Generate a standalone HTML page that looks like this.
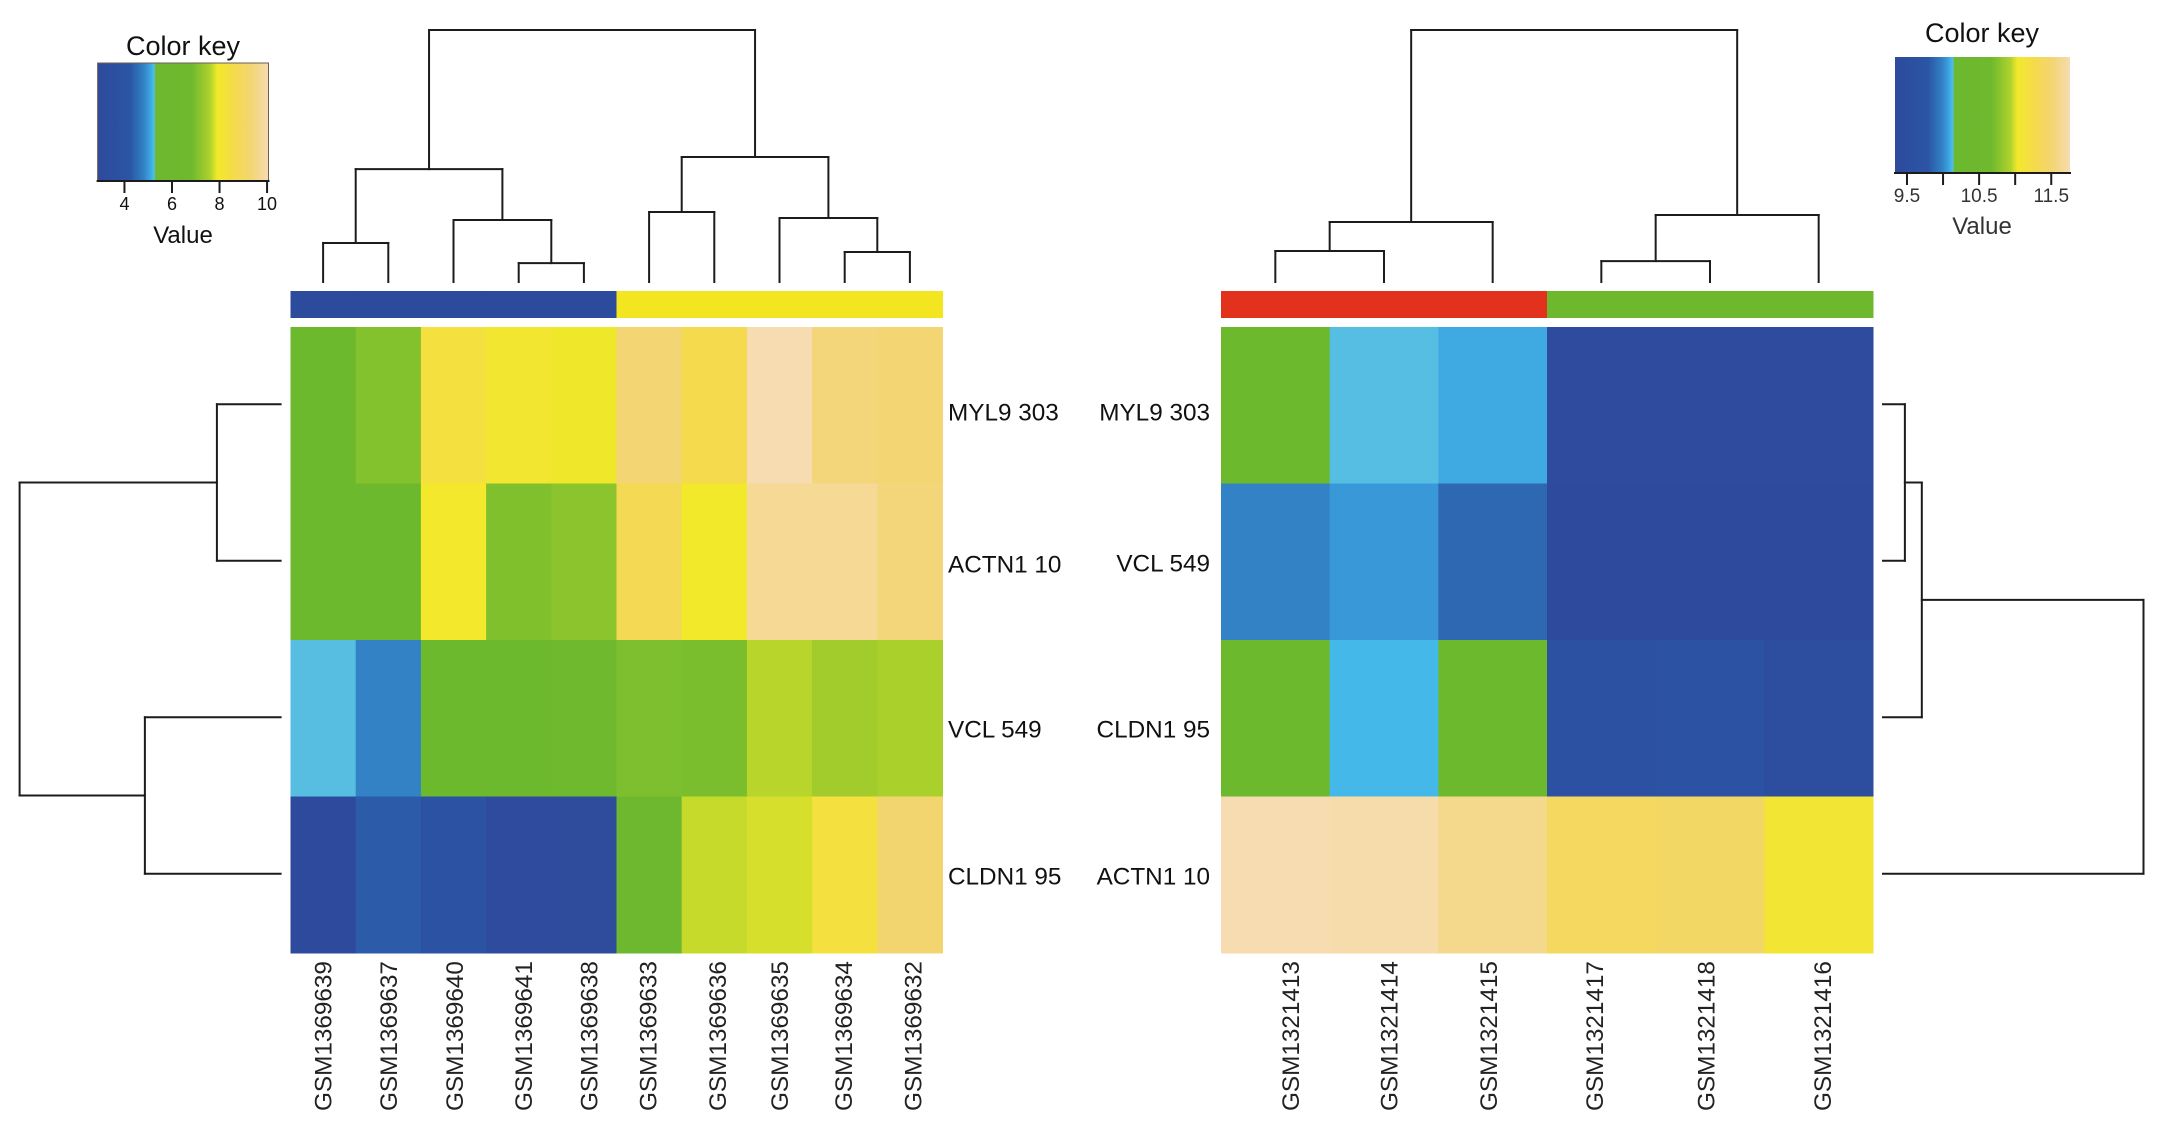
<!DOCTYPE html>
<html lang="en">
<head>
<meta charset="utf-8">
<title>Heatmaps with dendrograms</title>
<style>
  html, body { margin: 0; padding: 0; background: #fff; }
  svg { display: block; }
  text { font-family: "Liberation Sans", sans-serif; fill: #111; }
</style>
</head>
<body>
<svg id="chart" xmlns="http://www.w3.org/2000/svg" width="2161" height="1131" viewBox="0 0 2161 1131">
  <rect x="0" y="0" width="2161" height="1131" fill="#ffffff"/>
  <defs id="gradients"></defs>
  <g id="left-panel">
    <text x="183" y="55" font-size="27" text-anchor="middle">Color key</text>
    <text x="183" y="243" font-size="24" text-anchor="middle">Value</text>
  </g>
  <g id="right-panel">
    <text x="1982" y="42" font-size="27" text-anchor="middle">Color key</text>
    <text x="1982" y="234" font-size="24" text-anchor="middle" style="fill:#333">Value</text>
  </g>
</svg>
<script>
// ---------- Shared colour map ----------
var cmapStops = [0, 0.19, 0.27, 0.30, 0.325, 0.334, 0.336, 0.55, 0.66, 0.70, 0.80, 0.90, 1];
var cmapColors = ['#2e4a9c', '#2b55a5', '#3282c5', '#3a9cdc', '#44baea', '#5bbfe0', '#6cb82f', '#6eb92e', '#b0d22c', '#f3e92a', '#f4da4c', '#f3d574', '#f6dcb0'];

// ---------- Left panel data ----------
var leftSamples = ['GSM1369639', 'GSM1369637', 'GSM1369640', 'GSM1369641', 'GSM1369638', 'GSM1369633', 'GSM1369636', 'GSM1369635', 'GSM1369634', 'GSM1369632'];
var leftGenes = ['MYL9 303', 'ACTN1 10', 'VCL 549', 'CLDN1 95'];
var leftRow1 = [6.1, 7.08, 8.33, 8.05, 7.88, 9.34, 8.62, 10.06, 9.41, 9.34];
var leftRow2 = [6.1, 6.1, 7.94, 7.04, 7.18, 8.77, 7.9, 9.74, 9.74, 9.41];
var leftRow3 = [5.26, 4.81, 6.1, 6.1, 6.46, 7.0, 6.97, 7.65, 7.44, 7.54];
var leftRow4 = [2.9, 4.31, 3.88, 3.01, 2.94, 6.03, 7.71, 7.78, 8.33, 9.27];
var leftGroups = ['a', 'a', 'a', 'a', 'a', 'b', 'b', 'b', 'b', 'b'];
var leftKeyTicks = [4, 6, 8, 10];
var leftKeyTickLabels = ['4', '6', '8', '10'];
var leftColMerges = [[-1, -2], [-4, -5], [-3, 2], [1, 3], [-6, -7], [-9, -10], [-8, 6], [5, 7], [4, 8]];
var leftColHeights = [15.5, 7.5, 24.6, 44.8, 27.8, 11.9, 25.4, 49.6, 100];
var leftRowMerges = [[-1, -2], [-3, -4], [1, 2]];
var leftRowHeights = [24.4, 52, 100];

// ---------- Right panel data ----------
var rightSamples = ['GSM1321413', 'GSM1321414', 'GSM1321415', 'GSM1321417', 'GSM1321418', 'GSM1321416'];
var rightGenes = ['MYL9 303', 'VCL 549', 'CLDN1 95', 'ACTN1 10'];
var rightRow1 = [10.42, 10.13, 10.08, 9.37, 9.37, 9.37];
var rightRow2 = [9.98, 10.04, 9.86, 9.32, 9.33, 9.33];
var rightRow3 = [10.42, 10.11, 10.42, 9.61, 9.66, 9.44];
var rightRow4 = [11.76, 11.74, 11.61, 11.39, 11.42, 11.1];
var rightGroups = ['c', 'c', 'c', 'd', 'd', 'd'];
var rightKeyTicks = [9.5, 10, 10.5, 11, 11.5];
var rightKeyTickLabels = ['9.5', '', '10.5', '', '11.5'];
var rightColMerges = [[-1, -2], [1, -3], [-4, -5], [3, -6], [2, 4]];
var rightColHeights = [12.3, 23.8, 8.3, 26.6, 100];
var rightRowMerges = [[-1, -2], [1, -3], [2, -4]];
var rightRowHeights = [8.4, 14.9, 100];

var groupColors = { a: '#2d4b9c', b: '#f3e620', c: '#e2321d', d: '#6eb82e' };

// ---------- Helpers ----------
var SVGNS = 'http://www.w3.org/2000/svg';
function make(tag, attrs, parent) {
  var n = document.createElementNS(SVGNS, tag);
  for (var k in attrs) { n.setAttribute(k, attrs[k]); }
  parent.appendChild(n);
  return n;
}
function hexToRgb(h) {
  return [parseInt(h.substr(1, 2), 16), parseInt(h.substr(3, 2), 16), parseInt(h.substr(5, 2), 16)];
}
function cmap(f) {
  f = Math.max(0, Math.min(1, f));
  for (var i = 1; i < cmapStops.length; i++) {
    if (f <= cmapStops[i]) {
      var t = (f - cmapStops[i - 1]) / (cmapStops[i] - cmapStops[i - 1]);
      var a = hexToRgb(cmapColors[i - 1]);
      var b = hexToRgb(cmapColors[i]);
      return 'rgb(' + Math.round(a[0] + (b[0] - a[0]) * t) + ',' + Math.round(a[1] + (b[1] - a[1]) * t) + ',' + Math.round(a[2] + (b[2] - a[2]) * t) + ')';
    }
  }
  return cmapColors[cmapColors.length - 1];
}
function drawLine(parent, x1, y1, x2, y2, name) {
  var l = make('line', { x1: x1, y1: y1, x2: x2, y2: y2, stroke: '#1c1c1c', 'stroke-width': 2, 'stroke-linecap': 'square' }, parent);
  
  
  return l;
}

// Walks an hclust-style merge table; leafPos maps leaf index to position, heightPos maps height to position.
function drawDendrogram(parent, merges, heights, leafPos, heightPos, horizontal, name) {
  var nodes = [];
  function resolve(ref) {
    if (ref < 0) { return { pos: leafPos(-ref - 1), h: 0 }; }
    return nodes[ref - 1];
  }
  merges.forEach(function (m, i) {
    var a = resolve(m[0]);
    var b = resolve(m[1]);
    var h = heights[i];
    var hp = heightPos(h);
    if (horizontal) {
      drawLine(parent, heightPos(a.h), a.pos, hp, a.pos, name + '-branch');
      drawLine(parent, heightPos(b.h), b.pos, hp, b.pos, name + '-branch');
      drawLine(parent, hp, a.pos, hp, b.pos, name + '-link');
    } else {
      drawLine(parent, a.pos, heightPos(a.h), a.pos, hp, name + '-branch');
      drawLine(parent, b.pos, heightPos(b.h), b.pos, hp, name + '-branch');
      drawLine(parent, a.pos, hp, b.pos, hp, name + '-link');
    }
    nodes.push({ pos: (a.pos + b.pos) / 2, h: h });
  });
}

function drawPanel(cfg) {
  var g = document.getElementById(cfg.id);
  var nCols = cfg.samples.length;
  var nRows = cfg.rows.length;
  var cellW = (cfg.x1 - cfg.x0) / nCols;
  var cellH = (cfg.y1 - cfg.y0) / nRows;
  function xScale(i) { return cfg.x0 + i * cellW; }
  function yScale(i) { return cfg.y0 + i * cellH; }
  function norm(v) { return (v - cfg.vMin) / (cfg.vMax - cfg.vMin); }

  // Heatmap cells
  cfg.rows.forEach(function (row, r) {
    row.forEach(function (v, c) {
      var cell = make('rect', { x: xScale(c), y: yScale(r), width: cellW + 0.5, height: cellH + 0.5, fill: cmap(norm(v)) }, g);
      
      
    });
  });

  // Group colour bar
  cfg.groups.forEach(function (grp, c) {
    var seg = make('rect', { x: xScale(c), y: 291, width: cellW + 0.5, height: 27, fill: groupColors[grp] }, g);
    
    
  });

  // Gene labels
  cfg.genes.forEach(function (gene, r) {
    var t = make('text', { x: cfg.geneX, y: yScale(r) + cellH / 2 + cfg.geneDy[r], 'font-size': 24.3, 'text-anchor': cfg.geneAnchor }, g);
    t.textContent = gene;
    
    
  });

  // Sample labels (rotated) – nudged slightly as in the figure
  cfg.samples.forEach(function (s, c) {
    var cx = xScale(c) + cellW / 2 + cfg.labelNudge[c];
    var t = make('text', { x: cx + 8.5, y: 1111, 'font-size': 24.3, transform: 'rotate(-90 ' + (cx + 8.5) + ' 1111)', style: 'fill:#222' }, g);
    t.textContent = s;
    
    
  });

  // Column dendrogram
  drawDendrogram(g, cfg.colMerges, cfg.colHeights,
    function (i) { return xScale(i) + cellW / 2; },
    function (h) { return 282 - h / 100 * 252; },
    false, 'column-dendrogram');

  // Row dendrogram
  drawDendrogram(g, cfg.rowMerges, cfg.rowHeights,
    function (i) { return yScale(i) + cellH / 2 - 1; },
    function (h) { return cfg.rowLeaf + (cfg.rowRoot - cfg.rowLeaf) * h / 100; },
    true, 'row-dendrogram');

  // Colour key
  var defs = document.getElementById('gradients');
  var grad = make('linearGradient', { id: cfg.id + '-grad', x1: 0, x2: 1, y1: 0, y2: 0 }, defs);
  cmapStops.forEach(function (s, i) {
    make('stop', { offset: s, 'stop-color': cmapColors[i] }, grad);
  });
  var key = make('rect', { x: cfg.kx0, y: cfg.ky0, width: cfg.kx1 - cfg.kx0, height: cfg.ky1 - cfg.ky0, fill: 'url(#' + cfg.id + '-grad)' }, g);
  
  
  if (cfg.keyBorder) {
    key.setAttribute('stroke', '#6a5f55');
    key.setAttribute('stroke-width', '1');
  }
  drawLine(g, cfg.kx0, cfg.ky1, cfg.kx1, cfg.ky1, 'color-key-axis');
  cfg.ticks.forEach(function (v, i) {
    var x = cfg.tx0 + norm(v) * (cfg.kx1 - cfg.tx0);
    drawLine(g, x, cfg.ky1, x, cfg.ky1 + 11, 'color-key-tick');
    if (cfg.tickLabels[i]) {
      var t = make('text', { x: x, y: cfg.ky1 + cfg.tickLabelDy, 'font-size': cfg.tickFont, 'text-anchor': 'middle', style: 'fill:' + cfg.tickColor }, g);
      t.textContent = cfg.tickLabels[i];
      
      
    }
  });
}

drawPanel({
  id: 'left-panel',
  samples: leftSamples, genes: leftGenes,
  rows: [leftRow1, leftRow2, leftRow3, leftRow4],
  groups: leftGroups,
  x0: 290.5, x1: 942.5, y0: 327, y1: 953,
  vMin: 2.87, vMax: 10.06,
  geneX: 948, geneAnchor: 'start', geneDy: [15, 10.5, 19, 9.5],
  labelNudge: [0, 0, 1, 5, 5, -1, 3, 0, -1, 3],
  colMerges: leftColMerges, colHeights: leftColHeights,
  rowMerges: leftRowMerges, rowHeights: leftRowHeights,
  rowLeaf: 280.6, rowRoot: 19.6,
  kx0: 97.6, tx0: 97.6, kx1: 268.5, ky0: 63, ky1: 181,
  keyBorder: true,
  ticks: leftKeyTicks, tickLabels: leftKeyTickLabels,
  tickLabelDy: 29, tickFont: 18, tickColor: '#111'
});

drawPanel({
  id: 'right-panel',
  samples: rightSamples, genes: rightGenes,
  rows: [rightRow1, rightRow2, rightRow3, rightRow4],
  groups: rightGroups,
  x0: 1221, x1: 1873, y0: 327, y1: 953,
  vMin: 9.32, vMax: 11.76,
  geneX: 1210, geneAnchor: 'end', geneDy: [15, 9.5, 19, 9.5],
  labelNudge: [15, 5, -4, -7, -4, 4],
  colMerges: rightColMerges, colHeights: rightColHeights,
  rowMerges: rightRowMerges, rowHeights: rightRowHeights,
  rowLeaf: 1883, rowRoot: 2143.5,
  kx0: 1895, tx0: 1894, kx1: 2070, ky0: 57, ky1: 173,
  keyBorder: false,
  ticks: rightKeyTicks, tickLabels: rightKeyTickLabels,
  tickLabelDy: 29, tickFont: 19, tickColor: '#333'
});
</script>
</body>
</html>
